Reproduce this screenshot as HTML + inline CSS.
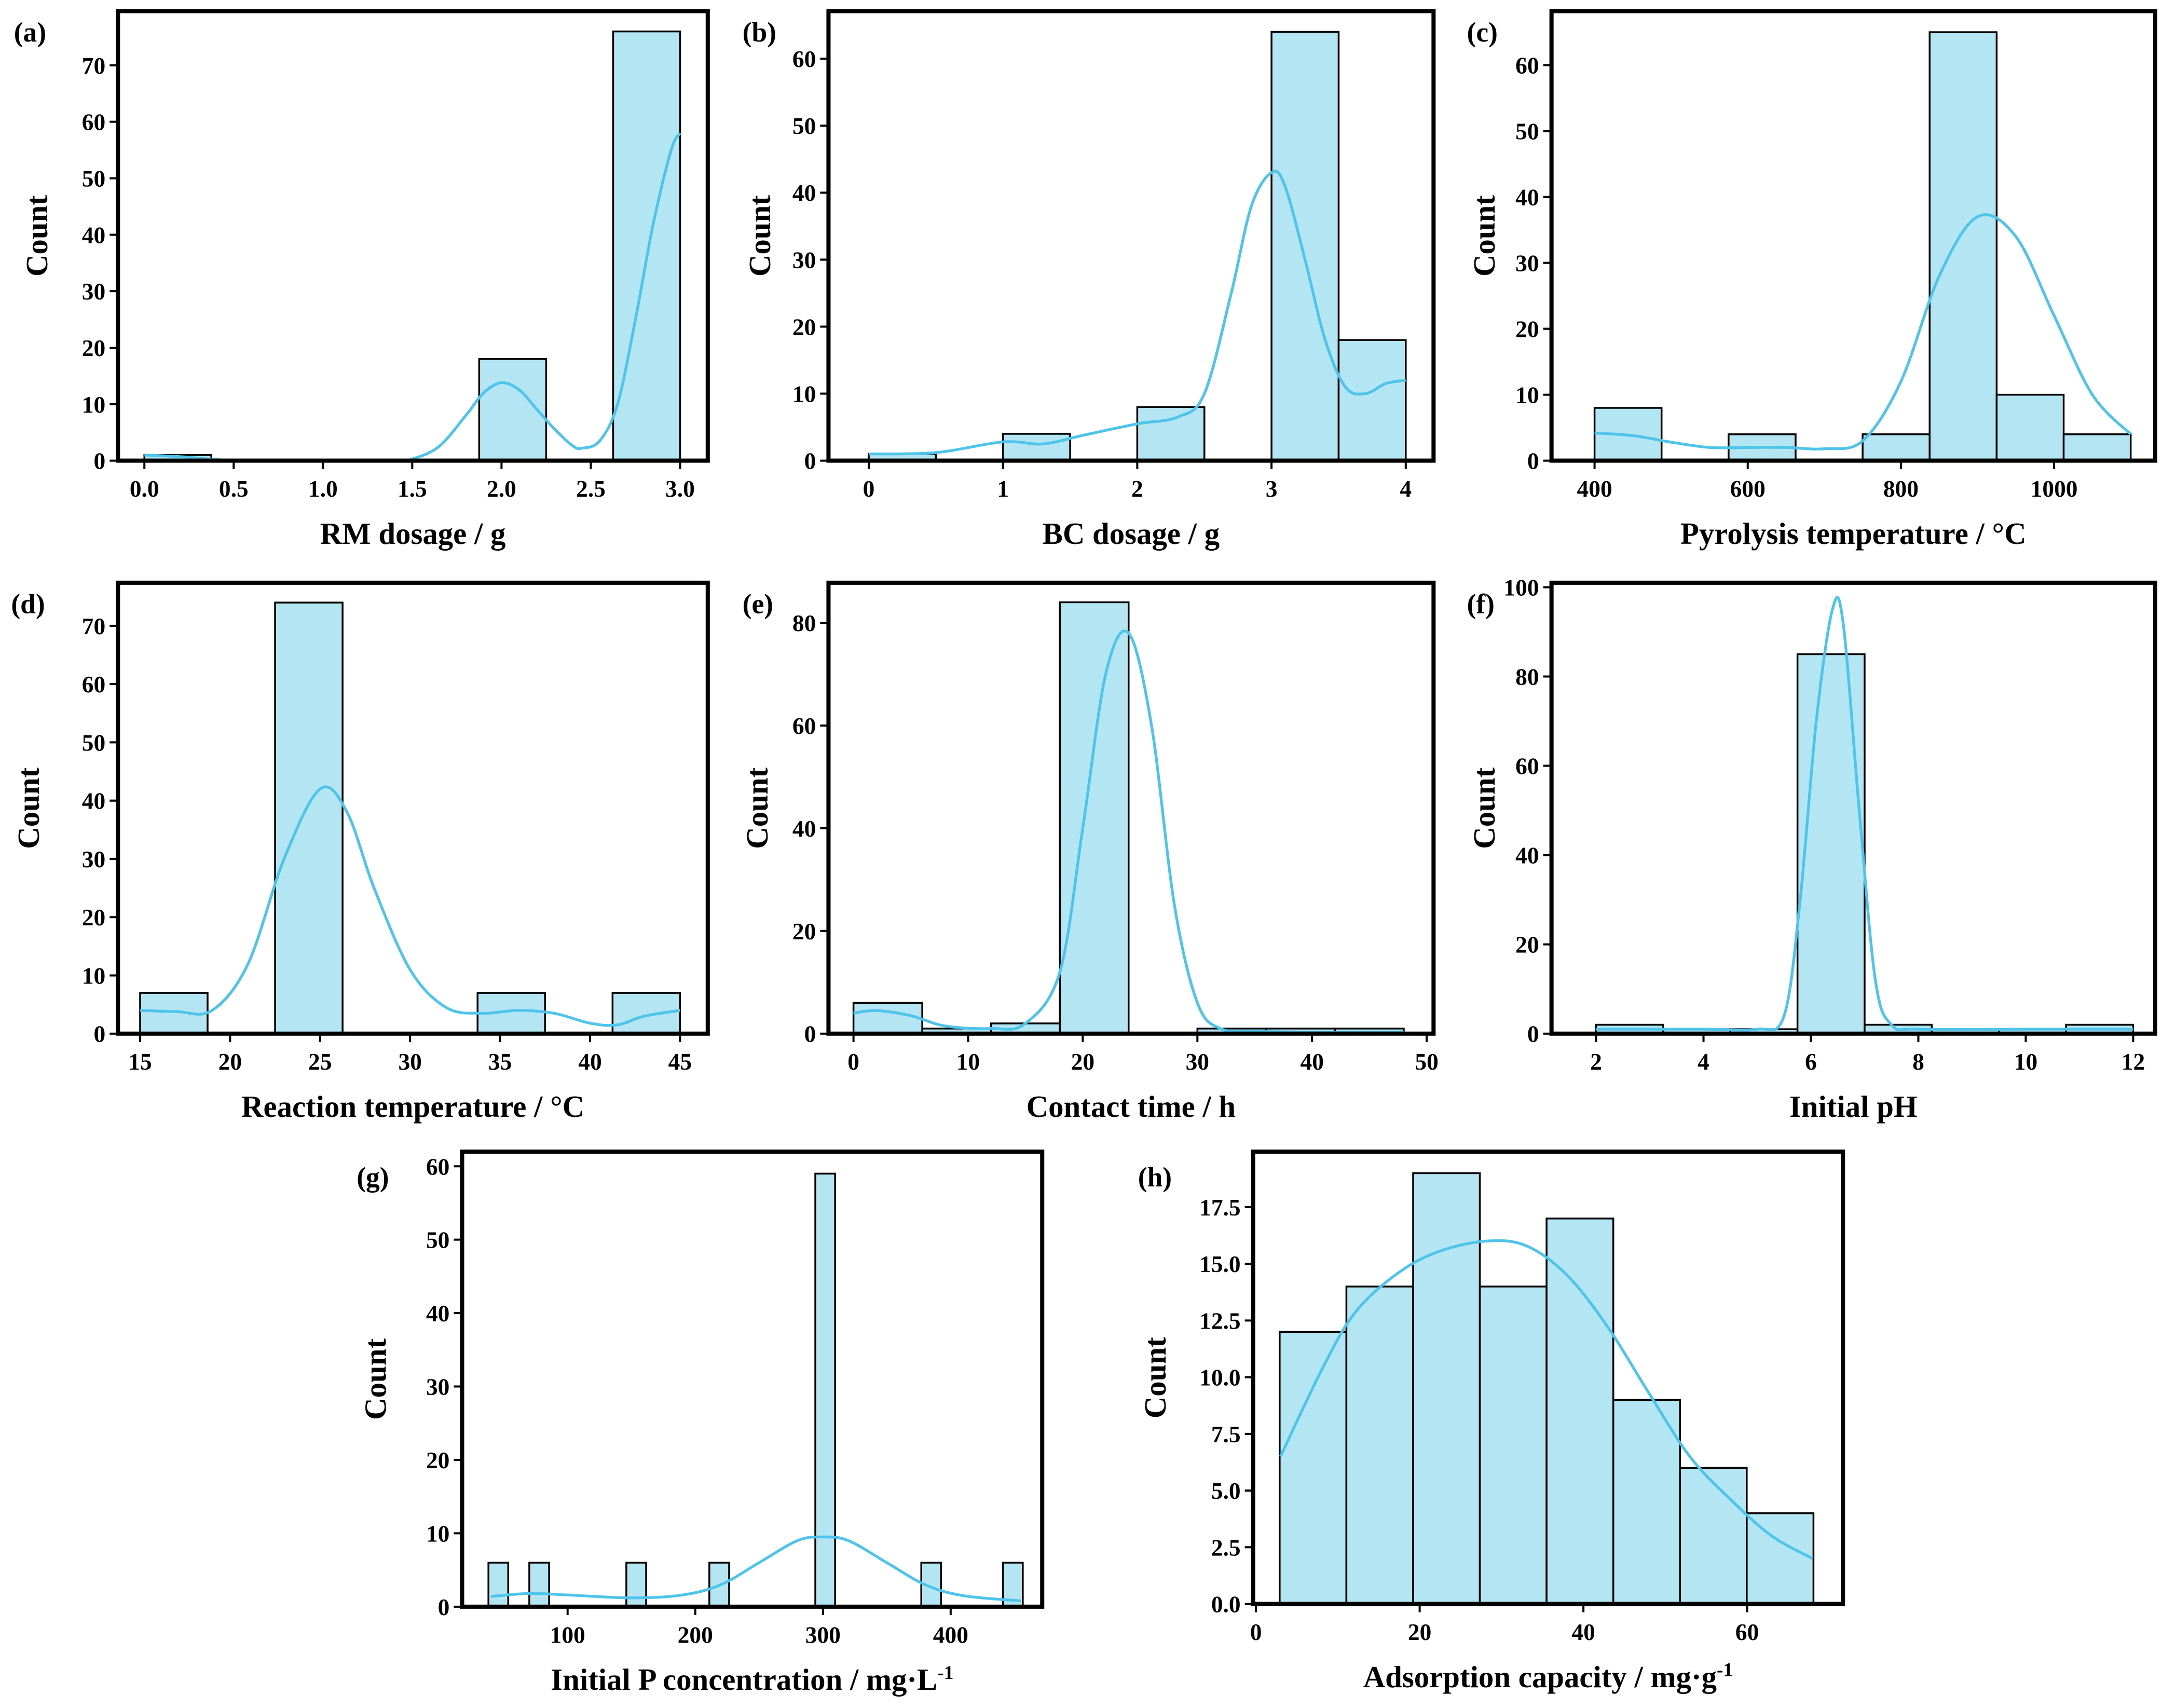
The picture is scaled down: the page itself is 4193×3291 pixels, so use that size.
<!DOCTYPE html>
<html><head><meta charset="utf-8"><style>
html,body{margin:0;padding:0;background:#fff}
svg{display:block}
text{font-family:"Liberation Serif",serif;font-weight:bold;fill:#000}
</style></head><body>
<svg id="fig" xmlns="http://www.w3.org/2000/svg" width="4193" height="3291" viewBox="0 0 1568 1231" preserveAspectRatio="none"></svg>
<script>
// ---- data (counts per bin) ----
const aBinStart=0, aBinWidth=0.375;
const aCounts=[1,0,0,0,0,18,0,76];
const aKdeX=[0,0.2,0.4,0.6,1.4,1.5,1.65,1.8,1.9,2.0,2.1,2.2,2.3,2.4,2.45,2.55,2.65,2.75,2.85,2.95,3.0];
const aKdeY=[1,0.7,0.2,0,0,0.3,2.5,8,12,13.8,12.5,9,5.5,2.6,2.2,3.5,10,25,42,55,58];
const aYTicks=[0,10,20,30,40,50,60,70];
const aXTicks=[0,0.5,1,1.5,2,2.5,3];

const bBinStart=0, bBinWidth=0.5;
const bCounts=[1,0,4,0,8,0,64,18];
const bKdeX=[0,0.5,1,1.3,1.6,2,2.3,2.5,2.7,2.85,3.0,3.1,3.25,3.4,3.55,3.7,3.85,4.0];
const bKdeY=[1,1.2,2.8,2.5,3.8,5.5,6.5,10,25,38,43,41,30,18,11,10,11.5,12];
const bYTicks=[0,10,20,30,40,50,60];
const bXTicks=[0,1,2,3,4];

const cBinStart=400, cBinWidth=87.5;
const cCounts=[8,0,4,0,4,65,10,4];
const cKdeX=[400,450,500,550,600,650,700,750,800,850,900,950,1000,1050,1100];
const cKdeY=[4.2,3.8,2.8,2,2,2,1.8,3,12,28,37,34,22,10,4];
const cYTicks=[0,10,20,30,40,50,60];
const cXTicks=[400,600,800,1000];

const dBinStart=15, dBinWidth=3.75;
const dCounts=[7,0,74,0,0,7,0,7];
const dKdeX=[15,17,19,21,23,25,26.5,28,30,32,34,36,38,40,41.5,43,45];
const dKdeY=[4,3.8,4,12,30,42,38,25,11,4.5,3.5,4,3.5,1.8,1.5,3,4];
const dYTicks=[0,10,20,30,40,50,60,70];
const dXTicks=[15,20,25,30,35,40,45];

const eBinStart=0, eBinWidth=6;
const eCounts=[6,1,2,84,0,1,1,1];
const eKdeX=[0,2,5,8,12,15,18,20,22,24,26,28,30,32,35,40,48];
const eKdeY=[4,4.5,3.5,1.5,1,2,12,40,70,78,60,25,6,1,0.5,0.3,0.3];
const eYTicks=[0,20,40,60,80];
const eXTicks=[0,10,20,30,40,50];

const fBinStart=2, fBinWidth=1.25;
const fCounts=[2,1,1,85,2,1,1,2];
const fKdeX=[2,4,5,5.5,5.8,6.1,6.4,6.6,6.9,7.2,7.5,8,10,12];
const fKdeY=[1,1,1,4,30,70,95,92,50,12,2,1,1,1];
const fYTicks=[0,20,40,60,80,100];
const fXTicks=[2,4,6,8,10,12];

const gBarLefts=[38,70,146,211,294,377,441];
const gBarWidth=15.5;
const gCounts=[6,6,6,6,59,6,6];
const gKdeX=[40,70,100,150,190,220,250,280,300,320,350,380,410,455];
const gKdeY=[1.4,1.8,1.6,1.2,1.6,3,6,9,9.5,9,6,3,1.5,0.8];
const gYTicks=[0,10,20,30,40,50,60];
const gXTicks=[100,200,300,400];

const hBinStart=2.9, hBinWidth=8.15;
const hCounts=[12,14,19,14,17,9,6,4];
const hKdeX=[3,8,12,17,22,28,33,38,43,48,53,58,63,68];
const hKdeY=[6.5,10.3,12.8,14.5,15.5,16,15.8,14.5,12.2,9.3,6.5,4.6,3,2];
const hYTicks=[0,2.5,5,7.5,10,12.5,15,17.5];
const hXTicks=[0,20,40,60];

// ---- drawing ----
const NS="http://www.w3.org/2000/svg";
const svg=document.getElementById('fig');
function mk(tag,attrs,parent){const e=document.createElementNS(NS,tag);for(const k in attrs)e.setAttribute(k,attrs[k]);(parent||svg).appendChild(e);return e;}
const BAR_FILL="#b3e5f3", KDE="#4fc4ea";

function panel(o){
  const g=mk('g',{});
  
  
  const X=v=>o.L+(v-o.x0)/(o.x1-o.x0)*(o.R-o.L);
  const Y=v=>o.B-v/o.ymax*(o.B-o.T);
  const lefts=o.lefts||o.counts.map((c,i)=>o.bs+i*o.bw);
  const bw=o.bw;
  o.counts.forEach((c,i)=>{
    if(c<=0)return;
    const r=mk('rect',{x:X(lefts[i]),y:Y(c),width:X(lefts[i]+bw)-X(lefts[i]),height:o.B-Y(c),fill:BAR_FILL,stroke:'#000','stroke-width':1.3},g);
    
    
  });
  const pts=o.kx.map((x,i)=>[X(x),Y(o.ky[i])]);
  let d='M'+pts[0][0]+','+pts[0][1];
  for(let i=0;i<pts.length-1;i++){
    const p0=pts[i-1]||pts[i],p1=pts[i],p2=pts[i+1],p3=pts[i+2]||p2;
    const c1=[p1[0]+(p2[0]-p0[0])/6,p1[1]+(p2[1]-p0[1])/6];
    const c2=[p2[0]-(p3[0]-p1[0])/6,p2[1]-(p3[1]-p1[1])/6];
    d+=' C'+c1+' '+c2+' '+p2;
  }
  const k=mk('path',{d:d,fill:'none',stroke:KDE,'stroke-width':2},g);
  
  
  const f=mk('rect',{x:o.L,y:o.T,width:o.R-o.L,height:o.B-o.T,fill:'none',stroke:'#000','stroke-width':3},g);
  
  
  o.yt.forEach(v=>{
    const y=Y(v);
    mk('line',{x1:o.L-6,x2:o.L,y1:y,y2:y,stroke:'#000','stroke-width':1.5},g);
    const t=mk('text',{x:o.L-9,y:y+6,'text-anchor':'end','font-size':17},g);
    t.textContent=o.yfmt?o.yfmt(v):v;
    
    
  });
  o.xt.forEach(v=>{
    const x=X(v);
    mk('line',{x1:x,x2:x,y1:o.B,y2:o.B+6,stroke:'#000','stroke-width':1.5},g);
    const t=mk('text',{x:x,y:o.B+26,'text-anchor':'middle','font-size':17},g);
    t.textContent=o.xfmt?o.xfmt(v):v;
    
    
  });
  const xl=mk('text',{x:(o.L+o.R)/2,y:o.B+60,'text-anchor':'middle','font-size':22},g);
  xl.innerHTML=o.xlabel;
  
  
  const cy=(o.T+o.B)/2;
  const yl=mk('text',{x:o.ylx,y:cy,'text-anchor':'middle','font-size':22,transform:'rotate(-90 '+o.ylx+' '+cy+')'},g);
  yl.textContent='Count';
  
  
  const pl=mk('text',{x:o.plx,y:o.ply,'font-size':20},g);
  pl.textContent='('+o.id+')';
  
  
}
const f1=v=>v.toFixed(1);
panel({id:'a',L:85,R:510,T:8,B:332,x0:-0.148,x1:3.155,ymax:79.6,bs:aBinStart,bw:aBinWidth,counts:aCounts,kx:aKdeX,ky:aKdeY,yt:aYTicks,xt:aXTicks,xfmt:f1,xlabel:'RM dosage / g',ylx:34,plx:10,ply:30});
panel({id:'b',L:597,R:1033,T:8,B:332,x0:-0.3,x1:4.207,ymax:67.1,bs:bBinStart,bw:bBinWidth,counts:bCounts,kx:bKdeX,ky:bKdeY,yt:bYTicks,xt:bXTicks,xlabel:'BC dosage / g',ylx:555,plx:535,ply:30});
panel({id:'c',L:1118,R:1553,T:8,B:332,x0:343.8,x1:1132,ymax:68.2,bs:cBinStart,bw:cBinWidth,counts:cCounts,kx:cKdeX,ky:cKdeY,yt:cYTicks,xt:cXTicks,xlabel:'Pyrolysis temperature / °C',ylx:1077,plx:1057,ply:30});
panel({id:'d',L:85,R:510,T:420,B:745,x0:13.77,x1:46.54,ymax:77.4,bs:dBinStart,bw:dBinWidth,counts:dCounts,kx:dKdeX,ky:dKdeY,yt:dYTicks,xt:dXTicks,xlabel:'Reaction temperature / °C',ylx:28,plx:8,ply:442});
panel({id:'e',L:597,R:1033,T:420,B:745,x0:-2.18,x1:50.6,ymax:87.8,bs:eBinStart,bw:eBinWidth,counts:eCounts,kx:eKdeX,ky:eKdeY,yt:eYTicks,xt:eXTicks,xlabel:'Contact time / h',ylx:553,plx:535,ply:442});
panel({id:'f',L:1118,R:1553,T:420,B:745,x0:1.17,x1:12.41,ymax:101,bs:fBinStart,bw:fBinWidth,counts:fCounts,kx:fKdeX,ky:fKdeY,yt:fYTicks,xt:fXTicks,xlabel:'Initial pH',ylx:1077,plx:1057,ply:442});
panel({id:'g',L:333,R:751,T:830,B:1158,x0:17.4,x1:471.7,ymax:62,lefts:gBarLefts,bw:gBarWidth,counts:gCounts,kx:gKdeX,ky:gKdeY,yt:gYTicks,xt:gXTicks,xlabel:'Initial P concentration / mg·L<tspan dy="-8" font-size="14">-1</tspan>',ylx:278,plx:257,ply:855});
panel({id:'h',L:903,R:1328,T:830,B:1156,x0:-0.34,x1:71.7,ymax:19.95,bs:hBinStart,bw:hBinWidth,counts:hCounts,kx:hKdeX,ky:hKdeY,yt:hYTicks,xt:hXTicks,yfmt:f1,xlabel:'Adsorption capacity / mg·g<tspan dy="-8" font-size="14">-1</tspan>',ylx:840,plx:820,ply:855});
</script>
</body></html>
